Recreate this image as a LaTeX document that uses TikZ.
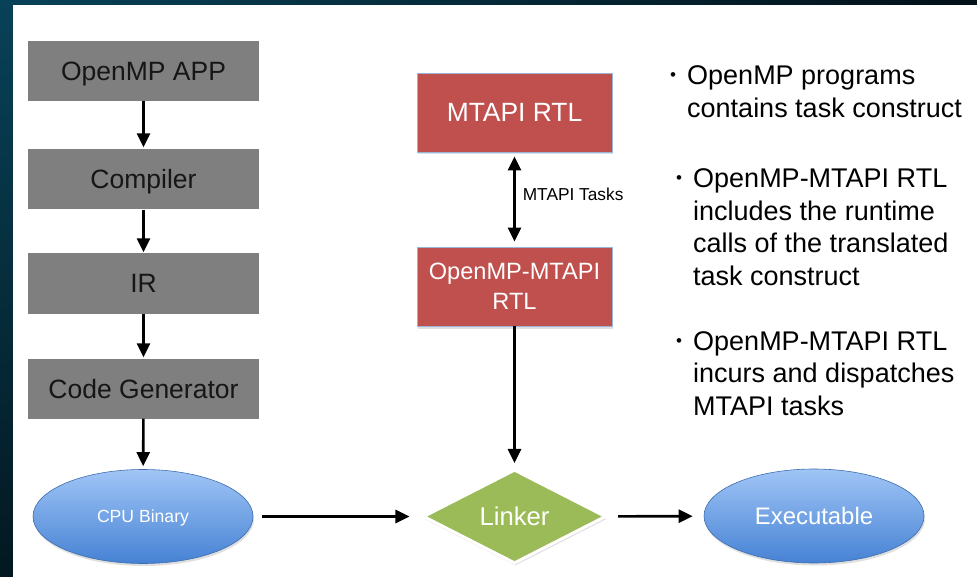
\documentclass[tikz,border=0pt]{standalone}
\usepackage{fontspec}
\setmainfont{Liberation Sans}
\usetikzlibrary{arrows.meta,shapes.geometric,shadows,shadings}

\definecolor{boxgray}{RGB}{127,127,127}
\definecolor{graytext}{RGB}{22,22,22}
\definecolor{rtlred}{RGB}{192,80,77}
\definecolor{rtledge}{RGB}{150,182,218}
\definecolor{linkgreen}{RGB}{155,187,89}
\definecolor{ovaltop}{RGB}{160,197,246}
\definecolor{ovalbot}{RGB}{70,130,212}
\definecolor{ovaledge}{RGB}{62,110,175}
\definecolor{frameA}{RGB}{8,66,88}
\definecolor{frameB}{RGB}{3,24,32}
\definecolor{frameC}{RGB}{2,16,24}

\newcommand\bulletmark{\makebox[17pt][l]{\fontsize{17}{17}\selectfont\raisebox{4pt}{•}}}

\tikzset{
  softshadow/.style={drop shadow={shadow xshift=1pt, shadow yshift=-2.5pt, opacity=0.25}},
  % single-line labels are centred on their capital height (given in pt)
  capcentred/.style={text height=#1, text depth=0pt},
  stagebox/.style={rectangle, fill=boxgray, minimum width=231pt, minimum height=60pt,
    inner sep=0pt, text=graytext, font=\fontsize{26.5}{30}\selectfont, capcentred=19pt},
  rtlbox/.style={rectangle, fill=rtlred, draw=rtledge, line width=0.8pt, softshadow,
    minimum width=195pt, minimum height=79pt, inner sep=0pt, text=white, align=center},
  oval/.style={ellipse, minimum width=220pt, minimum height=94pt, inner sep=0pt,
    top color=ovaltop, bottom color=ovalbot, draw=ovaledge, line width=0.6pt,
    softshadow, text=white},
  linkdiamond/.style={diamond, aspect=2, minimum width=183pt, minimum height=94pt,
    inner sep=0pt, fill=linkgreen, draw=white, line width=3pt, softshadow,
    text=white, font=\fontsize{25.7}{28}\selectfont, capcentred=18.4pt},
  flow/.style={line width=2.6pt, -{Triangle[length=14pt,width=13pt]}},
  twoway/.style={line width=2.6pt, {Triangle[length=14pt,width=13pt]}-{Triangle[length=14pt,width=13pt]}},
  bullets/.style={anchor=base west, inner sep=0pt, text=black, font=\fontsize{27}{32.5}\selectfont},
}

\begin{document}
\begin{tikzpicture}[x=1pt,y=-1pt]
  \useasboundingbox (0,0) rectangle (977,577);
  % slide frame and white canvas
  \shade[upper left=frameA, lower left=frameB, upper right=frameC, lower right=frameC]
    (0,0) rectangle (977,577);
  \fill[white] (13,5) rectangle (977,577);

  % compilation pipeline
  \node[stagebox] (app)  at (143.5,71)    {OpenMP APP};
  \node[stagebox] (comp) at (143.5,179.5) {Compiler};
  \node[stagebox] (ir)   at (143.5,283.5) {IR};
  \node[stagebox] (cg)   at (143.5,388.5) {Code Generator};
  \node[oval, capcentred=12.6pt, font=\fontsize{17.6}{20}\selectfont] (cpu) at (143,516.5) {CPU Binary};

  % runtime libraries
  \node[rtlbox, capcentred=18.9pt, font=\fontsize{26.4}{30}\selectfont] (mtapi) at (514.5,112.5) {MTAPI RTL};
  \node[rtlbox, font=\fontsize{23.6}{30}\selectfont] (omrtl) at (514.5,286.5) {OpenMP-MTAPI\\RTL};

  % linking
  \node[linkdiamond] (linker) at (514.5,516.5) {Linker};
  \node[oval, capcentred=17.1pt, font=\fontsize{23.9}{26}\selectfont] (exe) at (814,516) {Executable};

  % connectors
  \draw[flow, shorten >=2pt] (app) -- (comp);
  \draw[flow, shorten >=1pt] (comp) -- (ir);
  \draw[flow, shorten >=1pt] (ir) -- (cg);
  \draw[flow, shorten >=3pt] (cg) -- (cpu);
  \draw[flow, shorten <=9pt, shorten >=12pt] (cpu) -- (linker);
  \draw[flow, shorten >=5pt] (omrtl) -- (linker);
  \draw[flow, shorten <=11pt, shorten >=11pt] (linker) -- (exe);
  \draw[twoway, shorten <=4pt, shorten >=5pt] (mtapi) -- (omrtl)
    node[pos=0.44, anchor=west, inner sep=0pt, xshift=7pt, text=black,
         font=\fontsize{17.3}{20}\selectfont] (tasks) {MTAPI Tasks};

  % notes
  \node[bullets] (note1) at (670,85) {\begin{tabular}[t]{@{}l@{}l@{}}
    \bulletmark & OpenMP programs\\
    & contains task construct\end{tabular}};
  \node[bullets] (note2) at (676,188) {\begin{tabular}[t]{@{}l@{}l@{}}
    \bulletmark & OpenMP-MTAPI RTL\\
    & includes the runtime\\
    & calls of the translated\\
    & task construct\end{tabular}};
  \node[bullets] (note3) at (676,350) {\begin{tabular}[t]{@{}l@{}l@{}}
    \bulletmark & OpenMP-MTAPI RTL\\
    & incurs and dispatches\\
    & MTAPI tasks\end{tabular}};
\end{tikzpicture}
\end{document}
